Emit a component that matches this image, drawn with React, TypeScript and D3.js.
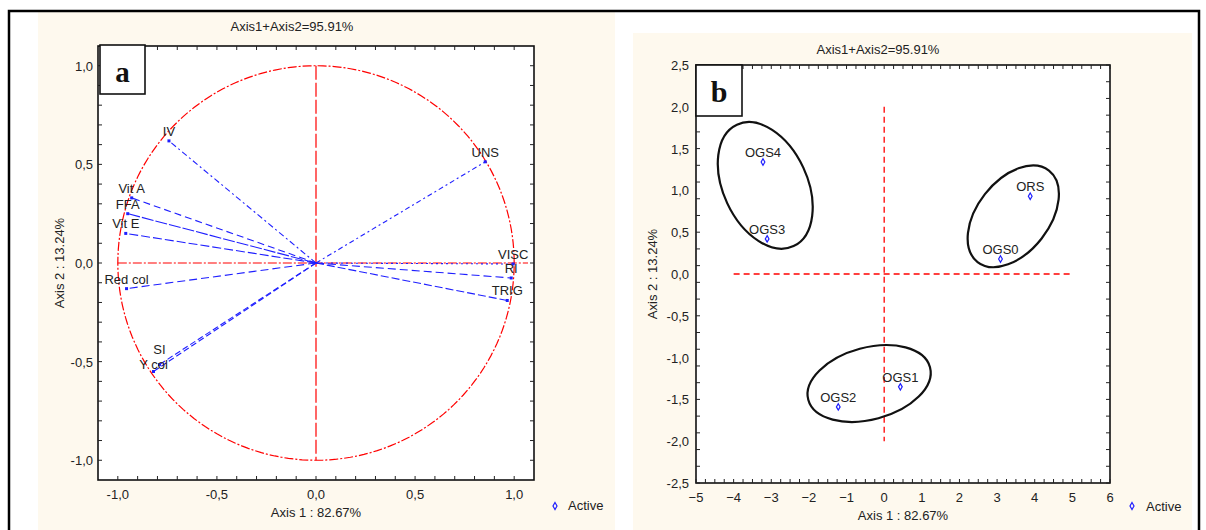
import React, { useEffect, useRef } from "react";
import * as d3 from "d3";

// panel a: variable loadings on the unit circle
const varNames = ["IV", "Vit A", "FFA", "Vit E", "Red col", "Y col", "SI", "UNS", "VISC", "RI", "TRIG"];
const loadAxis1 = [-0.742, -0.93, -0.95, -0.96, -0.956, -0.82, -0.79, 0.854, 0.995, 0.985, 0.965];
const loadAxis2 = [0.619, 0.33, 0.25, 0.15, -0.13, -0.55, -0.515, 0.513, -0.005, -0.076, -0.19];

// panel b: sample scores
const sampleNames = ["OGS4", "OGS3", "ORS", "OGS0", "OGS2", "OGS1"];
const scoreAxis1 = [-3.22, -3.11, 3.88, 3.09, -1.22, 0.43];
const scoreAxis2 = [1.34, 0.42, 0.93, 0.18, -1.59, -1.35];

// group ellipse centres (data units)
const groupCx = [-3.16, 3.43, -0.4];
const groupCy = [1.06, 0.69, -1.31];

const ticksA = [-1, -0.5, 0, 0.5, 1];
const ticksAText = ["-1,0", "-0,5", "0,0", "0,5", "1,0"];
const xTicksB = [-5, -4, -3, -2, -1, 0, 1, 2, 3, 4, 5, 6];
const yTicksB = [2.5, 2, 1.5, 1, 0.5, 0, -0.5, -1, -1.5, -2, -2.5];
const yTicksBText = ["2,5", "2,0", "1,5", "1,0", "0,5", "0,0", "-0,5", "-1,0", "-1,5", "-2,0", "-2,5"];

const titleText = "Axis1+Axis2=95.91%";
const xTitle = "Axis 1  : 82.67%";
const yTitle = "Axis 2  : 13.24%";

const FONT = "'Liberation Sans', Arial, sans-serif";
const INK = "#222";
const BEIGE = "#fef9ee";

export default function App() {
  const ref = useRef<SVGSVGElement>(null);

  useEffect(() => {
    const svg = d3.select(ref.current);
    svg.selectAll("*").remove();

    // outer frame
    svg.append("rect").attr("width", 1206).attr("height", 530).attr("fill", "#fff");
    svg.append("rect").attr("x", 38).attr("y", 12).attr("width", 577).attr("height", 518).attr("fill", BEIGE);
    svg.append("rect").attr("x", 633).attr("y", 33).attr("width", 559).attr("height", 497).attr("fill", BEIGE);
    svg.append("path").attr("d", "M9,531 V11 H1199 V531").attr("fill", "none").attr("stroke", "#000").attr("stroke-width", 2.5);

    const txt = (g: any, x: number, y: number, s: string, anchor = "middle", size = 13) =>
      g.append("text").attr("x", x).attr("y", y).attr("text-anchor", anchor)
        .attr("font-family", FONT).attr("font-size", size).attr("fill", INK).text(s);

    const frame = (x: d3.ScaleLinear<number, number>, y: d3.ScaleLinear<number, number>,
      xt: number[], yt: number[]) => {
      const [x0, x1] = x.range();
      const [y0, y1] = y.range();
      svg.append("rect").attr("x", x0).attr("y", y1).attr("width", x1 - x0).attr("height", y0 - y1)
        .attr("fill", "#fff").attr("stroke", "#111").attr("stroke-width", 1.6);
      const tg = svg.append("g").attr("stroke", "#222").attr("stroke-width", 1);
      xt.forEach((v) => {
        tg.append("line").attr("x1", x(v)).attr("x2", x(v)).attr("y1", y0).attr("y2", y0 - 4);
        tg.append("line").attr("x1", x(v)).attr("x2", x(v)).attr("y1", y1).attr("y2", y1 + 4);
      });
      yt.forEach((v) => {
        tg.append("line").attr("y1", y(v)).attr("y2", y(v)).attr("x1", x0).attr("x2", x0 + 4);
        tg.append("line").attr("y1", y(v)).attr("y2", y(v)).attr("x1", x1).attr("x2", x1 - 4);
      });
    };

    // ---------- panel a ----------
    const xa = d3.scaleLinear().domain([-1.1, 1.1]).range([98, 534]);
    const ya = d3.scaleLinear().domain([-1.1, 1.1]).range([480, 46]);
    const minorA = d3.range(-10, 11).map((i) => i / 10);
    frame(xa, ya, minorA, minorA);

    // unit circle
    const circ = d3.range(0, 361, 2).map((a) => [Math.cos((a * Math.PI) / 180), Math.sin((a * Math.PI) / 180)]);
    svg.append("path").datum(circ)
      .attr("d", d3.line<number[]>().x((d) => xa(d[0])).y((d) => ya(d[1])))
      .attr("fill", "none").attr("stroke", "#ff0000").attr("stroke-width", 1.2)
      .attr("stroke-dasharray", "9,2,2,2");
    svg.append("line").attr("x1", xa(0)).attr("x2", xa(0)).attr("y1", ya(1)).attr("y2", ya(-1))
      .attr("stroke", "#ff0000").attr("stroke-width", 1.2).attr("stroke-dasharray", "14,3");
    svg.append("line").attr("x1", xa(-1)).attr("x2", xa(1.07)).attr("y1", ya(0)).attr("y2", ya(0))
      .attr("stroke", "#ff0000").attr("stroke-width", 1.2).attr("stroke-dasharray", "9,2,2,2");

    const dashes = ["6,3,2,3", "7,4", "12,2", "9,3", "8,4", "6,3", "6,3", "5,3,2,3", "2,3", "8,4", "8,3"];
    // label offsets above the arrow tip (the two lower-left labels are nudged apart)
    const labelDy = [-5, -5, -5, -5, -5, -3, -11, -5, -5, -5, -5];
    varNames.forEach((n, i) => {
      svg.append("line").attr("x1", xa(0)).attr("y1", ya(0))
        .attr("x2", xa(loadAxis1[i])).attr("y2", ya(loadAxis2[i]))
        .attr("stroke", "#1f1fff").attr("stroke-width", 1.1).attr("stroke-dasharray", dashes[i]);
      svg.append("rect").attr("x", xa(loadAxis1[i]) - 1.5).attr("y", ya(loadAxis2[i]) - 1.5)
        .attr("width", 3).attr("height", 3).attr("fill", "#1f1fff");
    });
    varNames.forEach((n, i) => txt(svg, xa(loadAxis1[i]), ya(loadAxis2[i]) + labelDy[i], n));

    ticksA.forEach((v, i) => {
      txt(svg, xa(v), 499, ticksAText[i]);
      txt(svg, 93, ya(v) + 5, ticksAText[i], "end");
    });

    // label box a
    svg.append("rect").attr("x", 100).attr("y", 45).attr("width", 45).attr("height", 49)
      .attr("fill", "#fff").attr("stroke", "#111").attr("stroke-width", 1.6);
    svg.append("text").attr("x", 122.5).attr("y", 82).attr("text-anchor", "middle")
      .attr("font-family", "'Liberation Serif', 'Times New Roman', serif").attr("font-weight", 700)
      .attr("font-size", 29).attr("fill", "#111").text("a");

    txt(svg, 292, 31, titleText);
    txt(svg, xa(0), 517, xTitle);
    svg.append("text").attr("transform", `translate(64,${ya(0)}) rotate(-90)`).attr("text-anchor", "middle")
      .attr("font-family", FONT).attr("font-size", 13).attr("fill", INK).text(yTitle);
    svg.append("path").attr("d", d3.symbol(d3.symbolDiamond, 14)()).attr("transform", "translate(555,506)")
      .attr("fill", "none").attr("stroke", "#1f1fff").attr("stroke-width", 1.2);
    txt(svg, 568, 510, "Active", "start");

    // ---------- panel b ----------
    const xb = d3.scaleLinear().domain([-5, 6]).range([696, 1110]);
    const yb = d3.scaleLinear().domain([-2.5, 2.5]).range([483, 65]);
    frame(xb, yb, d3.range(0, 45).map((i) => -5 + i * 0.25), d3.range(0, 26).map((i) => 2.5 - i * 0.2));

    svg.append("line").attr("x1", xb(0)).attr("x2", xb(0)).attr("y1", yb(2)).attr("y2", yb(-2))
      .attr("stroke", "#ff0000").attr("stroke-width", 1.3).attr("stroke-dasharray", "6,4");
    svg.append("line").attr("x1", xb(-4)).attr("x2", xb(5)).attr("y1", yb(0)).attr("y2", yb(0))
      .attr("stroke", "#ff0000").attr("stroke-width", 1.3).attr("stroke-dasharray", "6,4");

    const ellRx = [42, 58, 63];
    const ellRy = [67, 36, 36];
    const ellRot = [-25, -52, -15];
    groupCx.forEach((c, i) => {
      svg.append("ellipse").attr("cx", 0).attr("cy", 0).attr("rx", ellRx[i]).attr("ry", ellRy[i])
        .attr("transform", `translate(${xb(c)},${yb(groupCy[i])}) rotate(${ellRot[i]})`)
        .attr("fill", "none").attr("stroke", "#111").attr("stroke-width", 2.2);
    });

    sampleNames.forEach((n, i) => {
      svg.append("path").attr("d", d3.symbol(d3.symbolDiamond, 12)())
        .attr("transform", `translate(${xb(scoreAxis1[i])},${yb(scoreAxis2[i])})`)
        .attr("fill", "none").attr("stroke", "#1f1fff").attr("stroke-width", 1.2);
      txt(svg, xb(scoreAxis1[i]), yb(scoreAxis2[i]) - 5, n);
    });

    xTicksB.forEach((v) => txt(svg, xb(v), 502, d3.format("d")(v)));
    yTicksB.forEach((v, i) => txt(svg, 689, yb(v) + 5, yTicksBText[i], "end"));

    svg.append("rect").attr("x", 696).attr("y", 65).attr("width", 46).attr("height", 51)
      .attr("fill", "#fff").attr("stroke", "#111").attr("stroke-width", 1.6);
    svg.append("text").attr("x", 719).attr("y", 102).attr("text-anchor", "middle")
      .attr("font-family", "'Liberation Serif', 'Times New Roman', serif").attr("font-weight", 700)
      .attr("font-size", 30).attr("fill", "#111").text("b");

    txt(svg, 878, 54, titleText);
    txt(svg, (xb(-5) + xb(6)) / 2, 520, xTitle);
    svg.append("text").attr("transform", `translate(657,${yb(0)}) rotate(-90)`).attr("text-anchor", "middle")
      .attr("font-family", FONT).attr("font-size", 13).attr("fill", INK).text(yTitle);
    svg.append("path").attr("d", d3.symbol(d3.symbolDiamond, 14)()).attr("transform", "translate(1132,506)")
      .attr("fill", "none").attr("stroke", "#1f1fff").attr("stroke-width", 1.2);
    txt(svg, 1146, 511, "Active", "start");
  }, []);

  return (
    <div style={{ position: "fixed", left: 0, top: 0 }}>
      <svg ref={ref} width={1206} height={530} style={{ display: "block" }} />
    </div>
  );
}
